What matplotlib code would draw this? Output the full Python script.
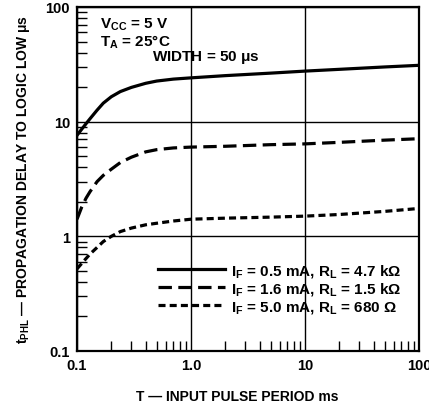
import matplotlib
matplotlib.use('Agg')
import matplotlib.pyplot as plt
from matplotlib.ticker import LogLocator, NullFormatter, FixedLocator, FixedFormatter

plt.rcParams.update({
    'font.family': ['Liberation Sans', 'DejaVu Sans'],
    'font.weight': 'bold',
    'font.size': 10.5,
    'mathtext.fontset': 'custom',
    'mathtext.rm': 'Liberation Sans:bold',
    'mathtext.it': 'Liberation Sans:bold',
    'mathtext.bf': 'Liberation Sans:bold',
})

# input pulse period (ms)
period = [0.1, 0.11, 0.12, 0.13, 0.15, 0.17, 0.2, 0.24, 0.3, 0.4, 0.5, 0.7,
          1.0, 2, 5, 10, 20, 50, 100]
# propagation delay (us)
delay_05mA = [7.6, 8.6, 9.6, 10.6, 12.6, 14.5, 16.5, 18.3, 19.9, 21.6, 22.6, 23.5,
              24.1, 25.2, 26.5, 27.6, 28.6, 30.0, 31.0]
delay_16mA = [1.41, 1.8, 2.15, 2.45, 3.0, 3.4, 3.85, 4.4, 4.9, 5.45, 5.7, 5.9,
              6.0, 6.1, 6.3, 6.4, 6.6, 6.9, 7.1]
delay_50mA = [0.52, 0.58, 0.64, 0.70, 0.80, 0.9, 1.0, 1.1, 1.18, 1.26, 1.3, 1.36,
              1.41, 1.44, 1.47, 1.5, 1.55, 1.65, 1.75]

labels = [r'I$_{\mathrm{F}}$ = 0.5 mA, R$_{\mathrm{L}}$ = 4.7 k$\Omega$',
          r'I$_{\mathrm{F}}$ = 1.6 mA, R$_{\mathrm{L}}$ = 1.5 k$\Omega$',
          r'I$_{\mathrm{F}}$ = 5.0 mA, R$_{\mathrm{L}}$ = 680 $\Omega$']

x_ticks = [0.1, 1.0, 10, 100]
x_ticklabels = ['0.1', '1.0', '10', '100']
y_ticks = [0.1, 1, 10, 100]
y_ticklabels = ['0.1', '1', '10', '100']

fig = plt.figure(figsize=(4.29, 4.10), dpi=100)
ax = fig.add_axes([0.1795, 0.1415, 0.7972, 0.839])

ax.plot(period, delay_05mA, '-', color='black', lw=2.3, label=labels[0])
ax.plot(period, delay_16mA, color='black', lw=2.3, dashes=(4.2, 2.0), label=labels[1])
ax.plot(period, delay_50mA, color='black', lw=2.3, dashes=(2.2, 1.3), label=labels[2])

ax.set_xscale('log')
ax.set_yscale('log')
ax.set_xlim(0.1, 100)
ax.set_ylim(0.1, 100)

ax.xaxis.set_major_locator(FixedLocator(x_ticks))
ax.xaxis.set_major_formatter(FixedFormatter(x_ticklabels))
ax.yaxis.set_major_locator(FixedLocator(y_ticks))
ax.yaxis.set_major_formatter(FixedFormatter(y_ticklabels))
ax.xaxis.set_minor_locator(LogLocator(base=10, subs=range(2, 10)))
ax.yaxis.set_minor_locator(LogLocator(base=10, subs=range(2, 10)))
ax.xaxis.set_minor_formatter(NullFormatter())
ax.yaxis.set_minor_formatter(NullFormatter())

ax.tick_params(which='major', length=0, pad=5, labelsize=10.5)
ax.tick_params(which='minor', direction='in', length=7, width=1, color='black')
ax.tick_params(axis='x', which='minor', top=False)
ax.tick_params(axis='y', which='minor', right=False)
ax.grid(True, which='major', color='black', lw=1)

for s in ax.spines.values():
    s.set_linewidth(1.6)

# test conditions
ax.text(0.067, 0.95, r'V$_{\mathrm{CC}}$ = 5 V', transform=ax.transAxes, va='center', fontsize=11)
ax.text(0.067, 0.901, r'T$_{\mathrm{A}}$ = 25°C', transform=ax.transAxes, va='center', fontsize=11)
ax.text(0.219, 0.855, r'WIDTH = 50 $\mu$s', transform=ax.transAxes, va='center', fontsize=11)

ax.legend(loc='upper left', bbox_to_anchor=(0.237, 0.26), frameon=False,
          borderpad=0, borderaxespad=0, handlelength=4.4, handletextpad=0.35,
          labelspacing=0.1, fontsize=11)

ax.set_xlabel('T — INPUT PULSE PERIOD ms', fontsize=10, fontweight='bold')
ax.xaxis.set_label_coords(0.47, -0.11)
ax.set_ylabel(r't$_{\mathrm{PHL}}$ — PROPAGATION DELAY TO LOGIC LOW $\mu$s',
              labelpad=10, fontsize=10, fontweight='bold')

fig.savefig('out.png', dpi=100)
